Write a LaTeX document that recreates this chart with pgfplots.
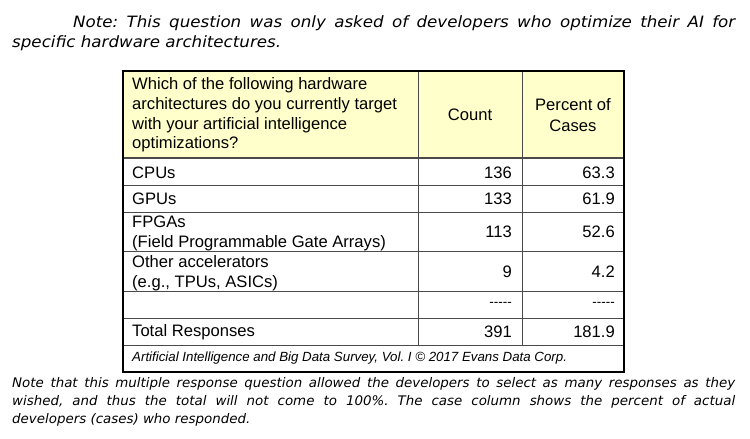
\documentclass[border=0pt]{standalone}
\usepackage{pgfplots}
\pgfplotsset{compat=1.18}
\usepackage{pgfplotstable}
\usepackage{fontspec}
\setmainfont{Liberation Sans}
\newfontfamily\notefontA[FakeStretch=1.07]{DejaVu Sans}
\newfontfamily\notefontB[FakeStretch=1.015]{DejaVu Sans}
\definecolor{hdr}{HTML}{FFFFCC}
\definecolor{gridc}{HTML}{4A4A4A}
\definecolor{txt}{HTML}{000000}
\frenchspacing

\pgfplotstableread{
cy    cx   px   count  pct
172.5 512  615  136    63.3
199   512  615  133    61.9
231.5 512  615  113    52.6
272   512  615  9      4.2
332   512  615  391    181.9
}\datatable

\begin{document}
\begin{tikzpicture}
\begin{axis}[
  width=750pt, height=439pt, scale only axis,
  xmin=0, xmax=750, ymin=0, ymax=439, y dir=reverse,
  hide axis, clip=false]
\fill[white] (axis cs:0,0) rectangle (axis cs:750,439);
% header fill
\fill[hdr] (axis cs:123,71) rectangle (axis cs:624,158);
% grid lines
\draw[gridc, line width=0.9pt] (axis cs:418,71) -- (axis cs:418,345);
\draw[gridc, line width=0.9pt] (axis cs:522,71) -- (axis cs:522,345);
\draw[gridc, line width=1.6pt] (axis cs:123,158) -- (axis cs:624,158);
\draw[gridc, line width=0.9pt] (axis cs:123,185) -- (axis cs:624,185);
\draw[gridc, line width=0.9pt] (axis cs:123,212) -- (axis cs:624,212);
\draw[gridc, line width=0.9pt] (axis cs:123,251) -- (axis cs:624,251);
\draw[gridc, line width=0.9pt] (axis cs:123,291) -- (axis cs:624,291);
\draw[gridc, line width=0.9pt] (axis cs:123,318) -- (axis cs:624,318);
\draw[gridc, line width=0.9pt] (axis cs:123,345) -- (axis cs:624,345);
\draw[black, line width=1.1pt] (axis cs:123,71) rectangle (axis cs:624,372);

% top note
\node[anchor=north west, inner sep=0pt, text width=723pt, align=justify, text=txt,
  font=\notefontA\itshape\fontsize{15.6}{20.5}\selectfont] at (axis cs:12,15)
  {\hspace*{61pt}Note: This question was only asked of developers who optimize their AI for\linebreak specific hardware architectures.};

% header texts
\node[anchor=west, inner sep=0pt, align=left, text=txt,
  font=\fontsize{16.6}{19.6}\selectfont] at (axis cs:132,115)
  {Which of the following hardware\\architectures do you currently target\\with your artificial intelligence\\optimizations?};
\node[inner sep=0pt, text=txt, font=\fontsize{16.6}{19.5}\selectfont] at (axis cs:470,115) {Count};
\node[inner sep=0pt, align=center, text=txt, font=\fontsize{16.6}{20.5}\selectfont] at (axis cs:573,115) {Percent of\\Cases};

% row labels
\begin{scope}[every node/.style={anchor=west, inner sep=0pt, align=left, text=txt, font=\fontsize{16.6}{19.5}\selectfont}]
\node at (axis cs:132,172.5) {CPUs};
\node at (axis cs:132,199) {GPUs};
\node at (axis cs:132,233.5) {FPGAs\\(Field Programmable Gate Arrays)};
\node at (axis cs:132,273) {Other accelerators\\(e.g., TPUs, ASICs)};
\node at (axis cs:132,332) {Total Responses};
\end{scope}
\node[anchor=east, inner sep=0pt, text=txt, font=\fontsize{13.5}{14}\selectfont] at (axis cs:512,304) {-{}-{}-{}-{}-};
\node[anchor=east, inner sep=0pt, text=txt, font=\fontsize{13.5}{14}\selectfont] at (axis cs:615,304) {-{}-{}-{}-{}-};

% values
\addplot[draw=none, nodes near coords, point meta=explicit symbolic,
  every node near coord/.append style={anchor=east, inner sep=0pt, text=txt, font=\fontsize{16.6}{18}\selectfont}]
  table[x=cx, y=cy, meta=count] {\datatable};
\addplot[draw=none, nodes near coords, point meta=explicit symbolic,
  every node near coord/.append style={anchor=east, inner sep=0pt, text=txt, font=\fontsize{16.6}{18}\selectfont}]
  table[x=px, y=cy, meta=pct] {\datatable};

% footer source
\node[anchor=west, inner sep=0pt, text=txt, font=\itshape\fontsize{13.3}{14}\selectfont] at (axis cs:132,358.5)
  {Artificial Intelligence and Big Data Survey, Vol. I \textcopyright{} 2017 Evans Data Corp.};

% bottom note
\node[anchor=north west, inner sep=0pt, text width=723pt, align=justify, text=txt,
  font=\notefontB\itshape\fontsize{13.2}{18.3}\selectfont] at (axis cs:12,377)
  {Note that this multiple response question allowed the developers to select as many responses as they\linebreak wished, and thus the total will not come to 100\%. The case column shows the percent of actual\linebreak developers (cases) who responded.};
\end{axis}
\end{tikzpicture}
\end{document}
